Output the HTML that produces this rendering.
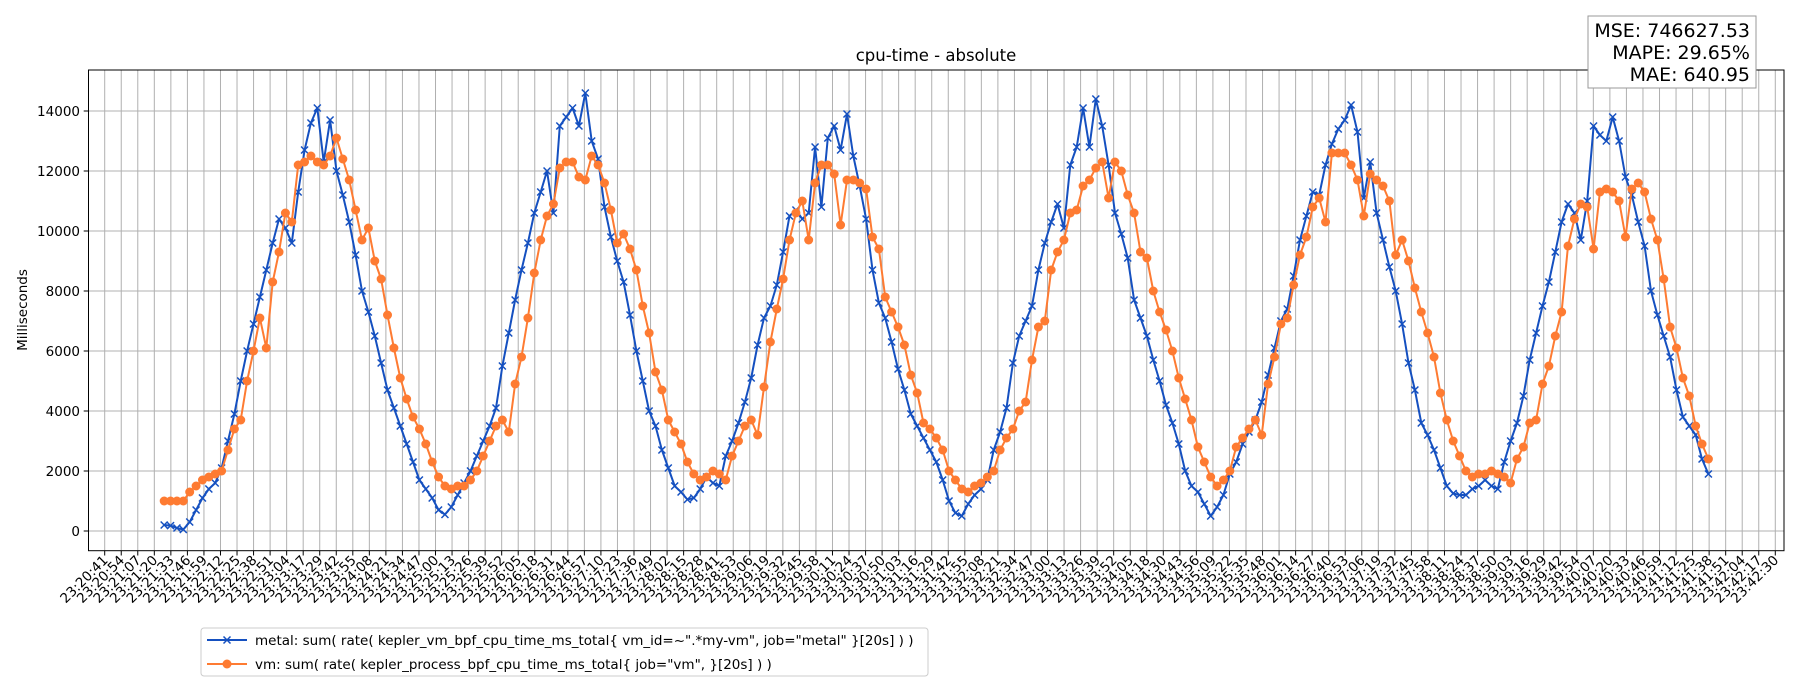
<!DOCTYPE html>
<html><head><meta charset="utf-8"><style>
html,body{margin:0;padding:0;background:#fff;}
svg{display:block;font-family:"DejaVu Sans","Liberation Sans",sans-serif;}
</style></head><body>
<svg id="chart" width="1800" height="700" viewBox="0 0 1800 700" xmlns="http://www.w3.org/2000/svg">
<text x="936" y="61" font-size="16.5" text-anchor="middle">cpu-time - absolute</text>
<text x="27" y="310" font-size="13.5" text-anchor="middle" transform="rotate(-90 27 310)">Milliseconds</text>
<g id="grid"></g>
<g id="series"></g>
<rect x="88.5" y="70" width="1695.5" height="480.7" fill="none" stroke="#000" stroke-width="1"/>
<g id="ticks"></g>
<g>
<rect x="1588" y="16" width="168" height="72" fill="#fff" stroke="#999" stroke-width="1"/>
<text x="1750" y="37" font-size="19" text-anchor="end">MSE: 746627.53</text>
<text x="1750" y="59" font-size="19" text-anchor="end">MAPE: 29.65%</text>
<text x="1750" y="81" font-size="19" text-anchor="end">MAE: 640.95</text>
</g>
<g>
<rect x="201" y="628" width="727" height="48" rx="3" fill="#fff" stroke="#ccc" stroke-width="1"/>
<g>
<line x1="207" y1="640" x2="247" y2="640" stroke="#1550c0" stroke-width="2"/>
<path d="M223.5,636.5 L230.5,643.5 M230.5,636.5 L223.5,643.5" stroke="#1550c0" stroke-width="1.5"/>
<text x="255" y="645" font-size="13.5">metal: sum( rate( kepler_vm_bpf_cpu_time_ms_total{ vm_id=~".*my-vm", job="metal" }[20s] ) )</text>
</g>
<g>
<line x1="207" y1="664" x2="247" y2="664" stroke="#fe7b32" stroke-width="2"/>
<circle cx="227" cy="664" r="4.5" fill="#fe7b32"/>
<text x="255" y="669" font-size="13.5">vm: sum( rate( kepler_process_bpf_cpu_time_ms_total{ job="vm", }[20s] ) )</text>
</g>
</g>
</svg>
<script>
const metalValues = [200,180,100,50,300,700,1100,1400,1600,2100,3000,3900,5000,6000,6900,7800,8700,9600,10400,10100,9600,11300,12700,13600,14100,12300,13700,12000,11200,10300,9200,8000,7300,6500,5600,4700,4100,3500,2900,2300,1700,1400,1100,700,550,800,1200,1600,2000,2500,3000,3500,4100,5500,6600,7700,8700,9600,10600,11300,12000,10600,13500,13800,14100,13500,14600,13000,12400,10800,9800,9000,8300,7200,6000,5000,4000,3500,2700,2100,1500,1300,1050,1100,1400,1800,1600,1500,2500,3000,3600,4300,5100,6200,7100,7500,8200,9300,10500,10700,10400,10600,12800,10800,13100,13500,12700,13900,12500,11500,10400,8700,7600,7100,6300,5400,4700,3900,3500,3100,2700,2300,1700,1000,600,500,900,1200,1400,1700,2700,3300,4100,5600,6500,7000,7500,8700,9600,10300,10900,10100,12200,12800,14100,12800,14400,13500,12200,10600,9900,9100,7700,7100,6500,5700,5000,4200,3600,2900,2000,1500,1300,900,500,800,1200,1900,2300,2900,3300,3700,4300,5200,6100,7000,7400,8500,9700,10500,11300,11200,12200,12900,13400,13700,14200,13300,11100,12300,10600,9700,8800,8000,6900,5600,4700,3600,3200,2700,2100,1500,1250,1200,1200,1400,1500,1700,1500,1400,2300,3000,3600,4500,5700,6600,7500,8300,9300,10300,10900,10600,9700,11000,13500,13200,13000,13800,13000,11800,11200,10300,9500,8000,7200,6500,5800,4700,3800,3500,3200,2400,1900];
const vmValues = [1000,1000,1000,1000,1300,1500,1700,1800,1900,2000,2700,3400,3700,5000,6000,7100,6100,8300,9300,10600,10300,12200,12300,12500,12300,12200,12500,13100,12400,11700,10700,9700,10100,9000,8400,7200,6100,5100,4400,3800,3400,2900,2300,1800,1500,1400,1500,1500,1700,2000,2500,3000,3500,3700,3300,4900,5800,7100,8600,9700,10500,10900,12100,12300,12300,11800,11700,12500,12200,11600,10700,9600,9900,9400,8700,7500,6600,5300,4700,3700,3300,2900,2300,1900,1700,1800,2000,1900,1700,2500,3000,3500,3700,3200,4800,6300,7400,8400,9700,10600,11000,9700,11600,12200,12200,11900,10200,11700,11700,11600,11400,9800,9400,7800,7300,6800,6200,5200,4600,3600,3400,3100,2700,2000,1700,1400,1300,1500,1600,1800,2000,2700,3100,3400,4000,4300,5700,6800,7000,8700,9300,9700,10600,10700,11500,11700,12100,12300,11100,12300,12000,11200,10600,9300,9100,8000,7300,6700,6000,5100,4400,3700,2800,2300,1800,1500,1700,2000,2800,3100,3400,3700,3200,4900,5800,6900,7100,8200,9200,9800,10800,11100,10300,12600,12600,12600,12200,11700,10500,11900,11700,11500,11000,9200,9700,9000,8100,7300,6600,5800,4600,3700,3000,2500,2000,1800,1900,1900,2000,1900,1800,1600,2400,2800,3600,3700,4900,5500,6500,7300,9500,10400,10900,10800,9400,11300,11400,11300,11000,9800,11400,11600,11300,10400,9700,8400,6800,6100,5100,4500,3500,2900,2400];
const yTicks = [0,2000,4000,6000,8000,10000,12000,14000];
const firstSampleSec = 46.6;
const sampleStepSec = 5;
const tickStartSec = 41;
const tickStepSec = 1309/101;
const tickCount = 102;

const NS = "http://www.w3.org/2000/svg";
const xScale = s => 104.7 + s * (16.54/12.96);
const yScale = v => 531 - v * 0.03;
function mk(tag, attrs, parent){const e=document.createElementNS(NS,tag);for(const k in attrs)e.setAttribute(k,attrs[k]);parent.appendChild(e);return e;}
const grid=document.getElementById('grid'), ticks=document.getElementById('ticks'), series=document.getElementById('series');
function fmt(sec){const total=20*60+Math.round(sec);const m=Math.floor(total/60),s=total%60;return "23:"+String(m).padStart(2,'0')+":"+String(s).padStart(2,'0');}
for(let i=0;i<tickCount;i++){
  const sec=tickStartSec+i*tickStepSec, x=xScale(i*tickStepSec);
  const gl=mk('line',{x1:x,y1:70,x2:x,y2:550.7,stroke:'#b0b0b0','stroke-width':1},grid);
  
  
  const tk=mk('line',{x1:x,y1:550.7,x2:x,y2:555.5,stroke:'#000','stroke-width':1},ticks);
  
  
  const t=mk('text',{x:x+4,y:561,'font-size':13.5,'text-anchor':'end',transform:`rotate(-45 ${x+4} 561)`},ticks);
  
  
  t.textContent=fmt(sec);
}
yTicks.forEach(v=>{
  const y=yScale(v);
  const gl=mk('line',{x1:88.5,y1:y,x2:1784,y2:y,stroke:'#b0b0b0','stroke-width':1},grid);
  
  
  const tk=mk('line',{x1:83.7,y1:y,x2:88.5,y2:y,stroke:'#000','stroke-width':1},ticks);
  
  
  const t=mk('text',{x:80,y:y+5,'font-size':13.5,'text-anchor':'end'},ticks);
  
  
  t.textContent=String(v);
});
const sampleX = k => xScale(firstSampleSec + k*sampleStepSec);
function drawLine(vals,color,name){
  const pts=vals.map((v,k)=>sampleX(k).toFixed(1)+','+yScale(v).toFixed(1)).join(' ');
  const pl=mk('polyline',{points:pts,fill:'none',stroke:color,'stroke-width':2,'stroke-linejoin':'round'},series);
  
  
}
drawLine(metalValues,'#1550c0','metal');
metalValues.forEach((v,k)=>{
  const x=sampleX(k), y=yScale(v);
  const p=mk('path',{d:`M${x-3.5},${y-3.5} L${x+3.5},${y+3.5} M${x+3.5},${y-3.5} L${x-3.5},${y+3.5}`,stroke:'#1550c0','stroke-width':1.5},series);
  
  
});
drawLine(vmValues,'#fe7b32','vm');
vmValues.forEach((v,k)=>{
  const c=mk('circle',{cx:sampleX(k),cy:yScale(v),r:4.5,fill:'#fe7b32'},series);
  
  
});
</script>
</body></html>
